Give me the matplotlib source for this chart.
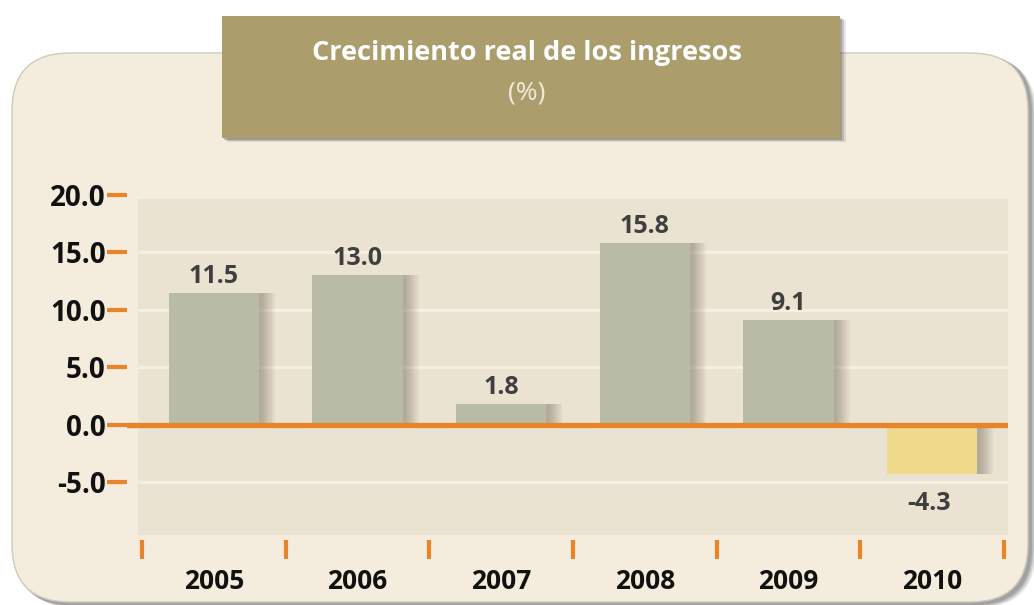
import matplotlib
matplotlib.use("Agg")
import matplotlib.pyplot as plt
from matplotlib.patches import FancyBboxPatch, Rectangle
import numpy as np

years = ["2005", "2006", "2007", "2008", "2009", "2010"]
values = [11.5, 13.0, 1.8, 15.8, 9.1, -4.3]
y_ticks = [-5.0, 0.0, 5.0, 10.0, 15.0, 20.0]
title = "Crecimiento real de los ingresos"
subtitle = "(%)"

W, H = 1034, 605
plt.rcParams['font.family'] = ['Open Sans', 'DejaVu Sans']

fig = plt.figure(figsize=(W / 100, H / 100), dpi=100)
fig.patch.set_facecolor('white')

# background layer in pixel coordinates
bg = fig.add_axes([0, 0, 1, 1])
bg.set_xlim(0, W)
bg.set_ylim(H, 0)
bg.axis('off')

# shadow of the rounded panel
for k, a in enumerate([0.10, 0.12, 0.15, 0.2]):
    off = 6 - k * 1.3
    bg.add_patch(FancyBboxPatch((12 + off, 53 + off * 0.6), 1018, 551,
                                boxstyle="round,pad=0,rounding_size=58",
                                facecolor='#3a3a3a', edgecolor='none', alpha=a, zorder=1))
bg.add_patch(FancyBboxPatch((12, 53), 1016, 549,
                            boxstyle="round,pad=0,rounding_size=58",
                            facecolor='#f4ecdc', edgecolor='#cfcabd', lw=1.0, zorder=2))

# title box with shadow
for k, a in enumerate([0.12, 0.18, 0.25]):
    off = 6 - k * 1.8
    bg.add_patch(Rectangle((222 + off, 16 + off * 0.7), 618, 122,
                           facecolor='#3a3a3a', edgecolor='none', alpha=a, zorder=3))
bg.add_patch(Rectangle((222, 16), 618, 122, facecolor='#ac9e6c', edgecolor='none', zorder=4))
bg.text(527, 53, title, ha='center', va='center', color='white',
        fontsize=19.5, fontweight='bold', zorder=5)
bg.text(527, 93, subtitle, ha='center', va='center', color='#f3ecdc',
        fontsize=19, zorder=5)

# main axes
left, right, top, bottom = 127, 1008, 190, 540
ax = fig.add_axes([left / W, 1 - bottom / H, (right - left) / W, (bottom - top) / H])
ax.set_facecolor('none')
ax.patch.set_alpha(0)
ax.set_xlim(-0.6044, 5.528)
ax.set_ylim(-10.0, 20.43)
for s in ax.spines.values():
    s.set_visible(False)

bx0, bx1 = -0.528, 5.528
ax.add_patch(Rectangle((bx0, -9.57), bx1 - bx0, 19.65 + 9.57,
                       facecolor='#ebe3d1', edgecolor='none', zorder=0))
grid_vals = [v for v in y_ticks if v not in (0.0, y_ticks[-1])]
ax.hlines(grid_vals, bx0, bx1, colors='#f5eee1', lw=2.5, zorder=0.5)

x = np.arange(len(years))
width = 0.63
colors = ['#b8bca6' if v >= 0 else '#f1d98c' for v in values]

# soft shadows to the right of bars
for k in range(9):
    dx = (3 + k * 1.6) / 143.7
    ax.bar(x + dx, values, width=width, color='#5a5848', alpha=0.05,
           edgecolor='none', zorder=1)
ax.bar(x, values, width=width, color=colors, edgecolor='none', zorder=2)

ax.axhline(0, color='#e8852b', lw=3.8, zorder=5)

for xi, v in zip(x, values):
    if v >= 0:
        ax.annotate(f"{v:.1f}", (xi, v), xytext=(0, 3), textcoords='offset points',
                    ha='center', va='bottom', fontsize=18, fontweight='bold',
                    color='#3f3f3f', zorder=6)
    else:
        ax.annotate(f"{v:.1f}", (xi, v), xytext=(-2, -12), textcoords='offset points',
                    ha='center', va='top', fontsize=18, fontweight='bold',
                    color='#3f3f3f', zorder=6)

# y axis
ax.set_yticks(y_ticks)
ax.set_yticklabels([f"{v:.1f}" for v in y_ticks], fontsize=20, fontweight='bold', color='#111111')
ax.tick_params(axis='y', direction='out', length=14.4, width=3, color='#e8852b', pad=1)

# x axis: boundaries as major ticks, labels at minor ticks
ax.set_xticks(np.arange(len(years) + 1) - 0.5)
ax.set_xticklabels([])
ax.set_xticks(x, minor=True)
ax.set_xticklabels(years, minor=True, fontsize=19, fontweight='bold', color='#111111')
ax.tick_params(axis='x', which='major', direction='out', length=14, width=3,
               color='#e8852b', pad=0)
ax.tick_params(axis='x', which='minor', length=0, pad=20)

fig.savefig('out.png', dpi=100, facecolor='white')
